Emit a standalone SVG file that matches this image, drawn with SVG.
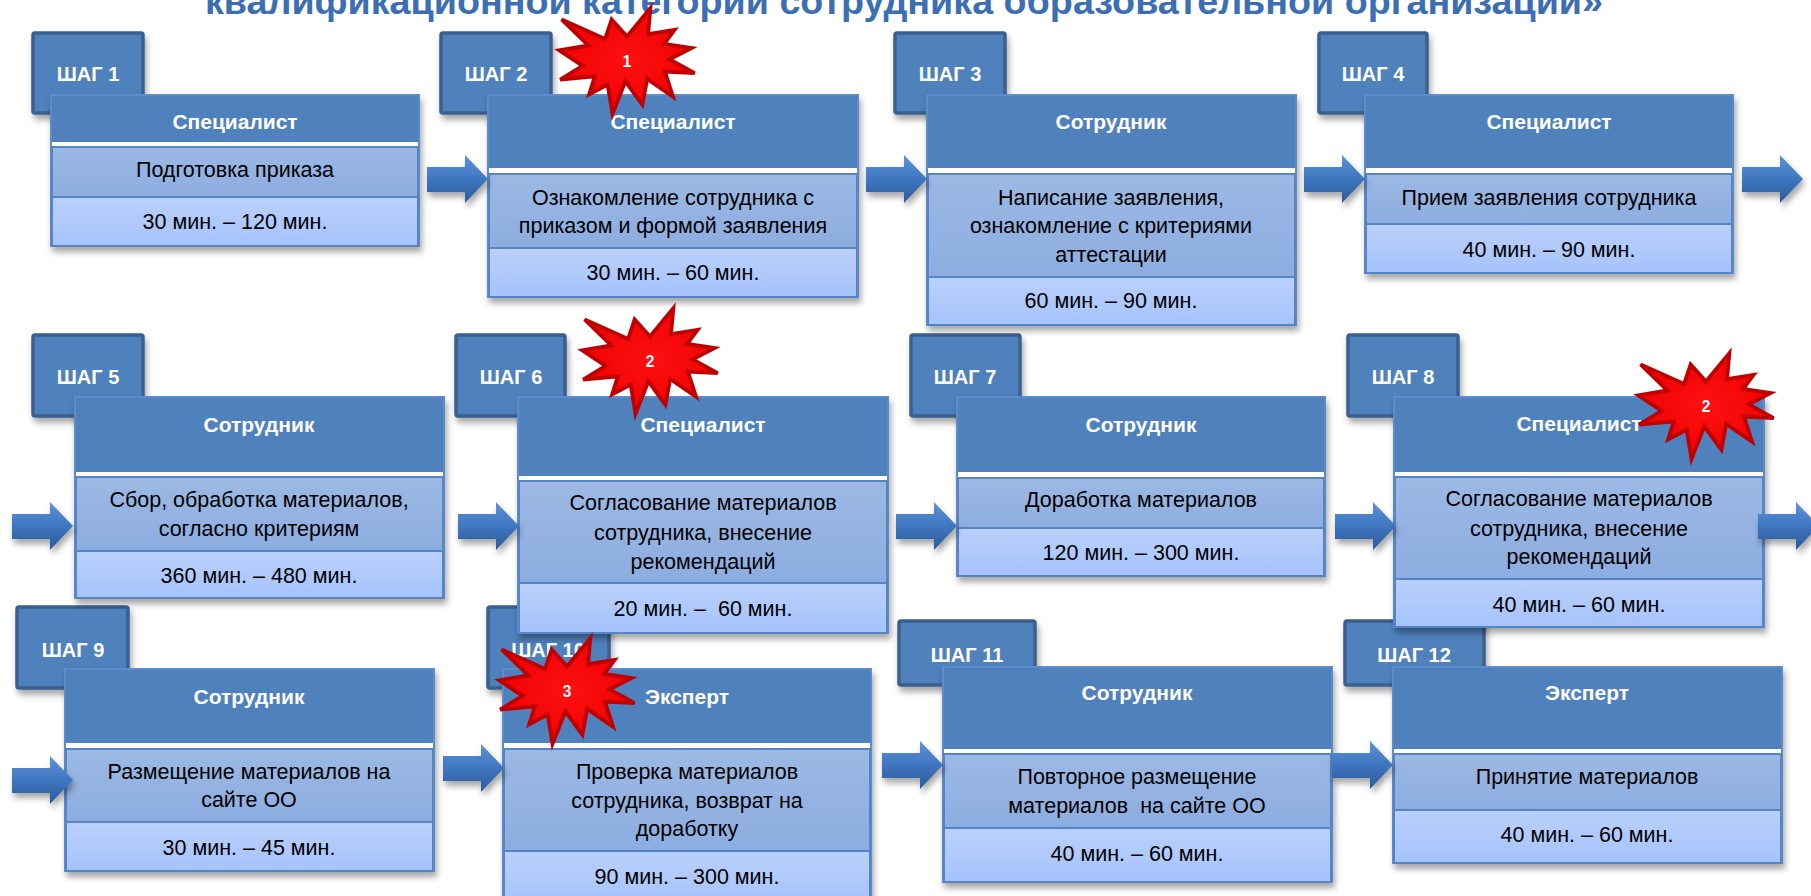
<svg xmlns="http://www.w3.org/2000/svg" xmlns:xlink="http://www.w3.org/1999/xlink" width="1811" height="896" viewBox="0 0 1811 896">
<style>
.tab{fill:#4f81bd;stroke:#3a5f8f;stroke-width:3.5}
.tabt{font-family:"Liberation Sans",Arial,sans-serif;font-weight:bold;font-size:20px;fill:#fff;text-anchor:middle}
.box{fill:#4f81bd;stroke:#5b8ccc;stroke-width:2}
.strp{fill:#fff}
.mid{fill:url(#gMid);stroke:#5585c5;stroke-width:2}
.bot{fill:url(#gBot);stroke:#5585c5;stroke-width:2}
.hd{font-family:"Liberation Sans",Arial,sans-serif;font-weight:bold;font-size:21px;fill:#fff;text-anchor:middle}
.tx{font-family:"Liberation Sans",Arial,sans-serif;font-size:21.5px;fill:#000;text-anchor:middle}
.pre{white-space:pre}
.arw{fill:url(#gArr)}
.star{fill:url(#gStar);stroke:#c00000;stroke-width:4;stroke-linejoin:miter}
.num{font-family:"Liberation Sans",Arial,sans-serif;font-weight:bold;font-size:16px;fill:#fff;text-anchor:middle}
.title{font-family:"Liberation Sans",Arial,sans-serif;font-weight:bold;font-size:36px;fill:#3c6eb4}
</style>
<defs>
<linearGradient id="gMid" x1="0" y1="0" x2="0" y2="1"><stop offset="0" stop-color="#9cb9e4"/><stop offset="1" stop-color="#8cade0"/></linearGradient>
<linearGradient id="gBot" x1="0" y1="0" x2="0" y2="1"><stop offset="0" stop-color="#bad0fb"/><stop offset="1" stop-color="#a5c3fb"/></linearGradient>
<linearGradient id="gArr" x1="0" y1="0" x2="0" y2="1"><stop offset="0" stop-color="#5d93d8"/><stop offset="0.5" stop-color="#3f76c0"/><stop offset="1" stop-color="#2c5a98"/></linearGradient>
<radialGradient id="gStar" cx="0.5" cy="0.5" r="0.6"><stop offset="0" stop-color="#ff1010"/><stop offset="1" stop-color="#ee0000"/></radialGradient>
<filter id="sh" x="-10%" y="-10%" width="125%" height="135%"><feDropShadow dx="2" dy="5" stdDeviation="3" flood-color="#000" flood-opacity="0.35"/></filter>
<path id="arr" d="M0,12 H38 V0 L61,24 L38,48 V37 H0 Z"/>
<path id="starp" d="M0,-25.5 L24.3,-55 L21.9,-27.9 L49.5,-32.3 L38.5,-17.7 L67.2,-13.6 L44.4,-1.7 L70.5,12.7 L39.4,10.9 L47.9,37.2 L21,18.6 L16,45.5 L-1.7,21.1 L-15.1,55 L-20.1,24.6 L-39.4,34.7 L-33.5,16 L-69.6,19.3 L-46.2,5 L-70.5,-11.1 L-40.3,-16.2 L-68.1,-43.3 L-22.8,-22.8 L-16,-43.3 Z"/>
</defs>
<rect width="1811" height="896" fill="#fff"/>
<text class="title" x="205" y="14" textLength="1398" lengthAdjust="spacingAndGlyphs">квалификационной категории сотрудника образовательной организации»</text>

<g id="step9">
<rect class="tab" x="17" y="607" width="111" height="81" rx="2" filter="url(#sh)"/>
<text class="tabt" x="73" y="657">ШАГ 9</text>
<rect class="box" x="65" y="669" width="369" height="202" filter="url(#sh)"/>
<rect class="strp" x="66" y="743" width="367" height="6"/>
<rect class="mid" x="66" y="749" width="367" height="73"/>
<rect class="bot" x="66" y="822" width="367" height="49"/>
<text class="hd" x="249" y="704">Сотрудник</text>
<text class="tx" x="249" y="779">Размещение материалов на</text>
<text class="tx" x="249" y="807">сайте ОО</text>
<text class="tx" x="249" y="855">30 мин. – 45 мин.</text>
</g>
<g id="step10">
<rect class="tab" x="488" y="607" width="121" height="81" rx="2" filter="url(#sh)"/>
<text class="tabt" x="548" y="657">ШАГ 10</text>
<rect class="box" x="503" y="669" width="368" height="236" filter="url(#sh)"/>
<rect class="strp" x="504" y="743" width="366" height="6"/>
<rect class="mid" x="504" y="749" width="366" height="102"/>
<rect class="bot" x="504" y="851" width="366" height="54"/>
<text class="hd" x="687" y="704">Эксперт</text>
<text class="tx" x="687" y="779">Проверка материалов</text>
<text class="tx" x="687" y="808">сотрудника, возврат на</text>
<text class="tx" x="687" y="836">доработку</text>
<text class="tx" x="687" y="884">90 мин. – 300 мин.</text>
</g>
<g id="step11">
<rect class="tab" x="899" y="621" width="136" height="64" rx="2" filter="url(#sh)"/>
<text class="tabt" x="967" y="662">ШАГ 11</text>
<rect class="box" x="943" y="667" width="389" height="215" filter="url(#sh)"/>
<rect class="strp" x="944" y="749" width="387" height="5"/>
<rect class="mid" x="944" y="754" width="387" height="74"/>
<rect class="bot" x="944" y="828" width="387" height="54"/>
<text class="hd" x="1137" y="700">Сотрудник</text>
<text class="tx" x="1137" y="784">Повторное размещение</text>
<text class="tx pre" x="1137" y="813" xml:space="preserve">материалов  на сайте ОО</text>
<text class="tx" x="1137" y="861">40 мин. – 60 мин.</text>
</g>
<g id="step12">
<rect class="tab" x="1345" y="621" width="139" height="64" rx="2" filter="url(#sh)"/>
<text class="tabt" x="1414" y="662">ШАГ 12</text>
<rect class="box" x="1393" y="667" width="389" height="196" filter="url(#sh)"/>
<rect class="strp" x="1394" y="749" width="387" height="5"/>
<rect class="mid" x="1394" y="754" width="387" height="56"/>
<rect class="bot" x="1394" y="810" width="387" height="53"/>
<text class="hd" x="1587" y="700">Эксперт</text>
<text class="tx" x="1587" y="784">Принятие материалов</text>
<text class="tx" x="1587" y="842">40 мин. – 60 мин.</text>
</g>

<g id="step5">
<rect class="tab" x="33" y="335" width="110" height="81" rx="2" filter="url(#sh)"/>
<text class="tabt" x="88" y="384">ШАГ 5</text>
<rect class="box" x="75" y="397" width="369" height="201" filter="url(#sh)"/>
<rect class="strp" x="76" y="472" width="367" height="5"/>
<rect class="mid" x="76" y="477" width="367" height="74"/>
<rect class="bot" x="76" y="551" width="367" height="47"/>
<text class="hd" x="259" y="432">Сотрудник</text>
<text class="tx" x="259" y="507">Сбор, обработка материалов,</text>
<text class="tx" x="259" y="536">согласно критериям</text>
<text class="tx" x="259" y="583">360 мин. – 480 мин.</text>
</g>
<g id="step6">
<rect class="tab" x="456" y="335" width="109" height="81" rx="2" filter="url(#sh)"/>
<text class="tabt" x="511" y="384">ШАГ 6</text>
<rect class="box" x="518" y="397" width="370" height="236" filter="url(#sh)"/>
<rect class="strp" x="519" y="476" width="368" height="5"/>
<rect class="mid" x="519" y="481" width="368" height="102"/>
<rect class="bot" x="519" y="583" width="368" height="50"/>
<text class="hd" x="703" y="432">Специалист</text>
<text class="tx" x="703" y="510">Согласование материалов</text>
<text class="tx" x="703" y="540">сотрудника, внесение</text>
<text class="tx" x="703" y="569">рекомендаций</text>
<text class="tx pre" x="703" y="616" xml:space="preserve">20 мин. –  60 мин.</text>
</g>
<g id="step7">
<rect class="tab" x="911" y="335" width="109" height="81" rx="2" filter="url(#sh)"/>
<text class="tabt" x="965" y="384">ШАГ 7</text>
<rect class="box" x="957" y="397" width="368" height="179" filter="url(#sh)"/>
<rect class="strp" x="958" y="472" width="366" height="6"/>
<rect class="mid" x="958" y="478" width="366" height="50"/>
<rect class="bot" x="958" y="528" width="366" height="48"/>
<text class="hd" x="1141" y="432">Сотрудник</text>
<text class="tx" x="1141" y="507">Доработка материалов</text>
<text class="tx" x="1141" y="560">120 мин. – 300 мин.</text>
</g>
<g id="step8">
<rect class="tab" x="1348" y="335" width="110" height="81" rx="2" filter="url(#sh)"/>
<text class="tabt" x="1403" y="384">ШАГ 8</text>
<rect class="box" x="1394" y="397" width="370" height="230" filter="url(#sh)"/>
<rect class="strp" x="1395" y="472" width="368" height="5"/>
<rect class="mid" x="1395" y="477" width="368" height="102"/>
<rect class="bot" x="1395" y="579" width="368" height="48"/>
<text class="hd" x="1579" y="431">Специалист</text>
<text class="tx" x="1579" y="506">Согласование материалов</text>
<text class="tx" x="1579" y="536">сотрудника, внесение</text>
<text class="tx" x="1579" y="564">рекомендаций</text>
<text class="tx" x="1579" y="612">40 мин. – 60 мин.</text>
</g>

<g id="step1">
<rect class="tab" x="33" y="33" width="110" height="80" rx="2" filter="url(#sh)"/>
<text class="tabt" x="88" y="81">ШАГ 1</text>
<rect class="box" x="51" y="95" width="368" height="151" filter="url(#sh)"/>
<rect class="strp" x="52" y="142" width="366" height="5"/>
<rect class="mid" x="52" y="147" width="366" height="50"/>
<rect class="bot" x="52" y="197" width="366" height="49"/>
<text class="hd" x="235" y="129">Специалист</text>
<text class="tx" x="235" y="177">Подготовка приказа</text>
<text class="tx" x="235" y="229">30 мин. – 120 мин.</text>
</g>
<g id="step2">
<rect class="tab" x="441" y="33" width="110" height="80" rx="2" filter="url(#sh)"/>
<text class="tabt" x="496" y="81">ШАГ 2</text>
<rect class="box" x="488" y="95" width="370" height="202" filter="url(#sh)"/>
<rect class="strp" x="489" y="168" width="368" height="6"/>
<rect class="mid" x="489" y="174" width="368" height="74"/>
<rect class="bot" x="489" y="248" width="368" height="49"/>
<text class="hd" x="673" y="129">Специалист</text>
<text class="tx" x="673" y="205">Ознакомление сотрудника с</text>
<text class="tx" x="673" y="233">приказом и формой заявления</text>
<text class="tx" x="673" y="280">30 мин. – 60 мин.</text>
</g>
<g id="step3">
<rect class="tab" x="895" y="33" width="110" height="80" rx="2" filter="url(#sh)"/>
<text class="tabt" x="950" y="81">ШАГ 3</text>
<rect class="box" x="927" y="95" width="369" height="230" filter="url(#sh)"/>
<rect class="strp" x="928" y="168" width="367" height="6"/>
<rect class="mid" x="928" y="174" width="367" height="103"/>
<rect class="bot" x="928" y="277" width="367" height="48"/>
<text class="hd" x="1111" y="129">Сотрудник</text>
<text class="tx" x="1111" y="205">Написание заявления,</text>
<text class="tx" x="1111" y="233">ознакомление с критериями</text>
<text class="tx" x="1111" y="262">аттестации</text>
<text class="tx" x="1111" y="308">60 мин. – 90 мин.</text>
</g>
<g id="step4">
<rect class="tab" x="1319" y="33" width="108" height="80" rx="2" filter="url(#sh)"/>
<text class="tabt" x="1373" y="81">ШАГ 4</text>
<rect class="box" x="1365" y="95" width="368" height="178" filter="url(#sh)"/>
<rect class="strp" x="1366" y="168" width="366" height="6"/>
<rect class="mid" x="1366" y="174" width="366" height="50"/>
<rect class="bot" x="1366" y="224" width="366" height="49"/>
<text class="hd" x="1549" y="129">Специалист</text>
<text class="tx" x="1549" y="205">Прием заявления сотрудника</text>
<text class="tx" x="1549" y="257">40 мин. – 90 мин.</text>
</g>

<g id="connectors" filter="url(#sh)">
<use class="arw" href="#arr" x="427" y="155"/>
<use class="arw" href="#arr" x="866" y="155"/>
<use class="arw" href="#arr" x="1304" y="155"/>
<use class="arw" href="#arr" x="1742" y="155"/>
<use class="arw" href="#arr" x="12" y="502"/>
<use class="arw" href="#arr" x="458" y="502"/>
<use class="arw" href="#arr" x="896" y="502"/>
<use class="arw" href="#arr" x="1335" y="502"/>
<use class="arw" href="#arr" x="1758" y="502"/>
<use class="arw" href="#arr" x="12" y="756"/>
<use class="arw" href="#arr" x="443" y="744"/>
<use class="arw" href="#arr" x="882" y="741"/>
<use class="arw" href="#arr" x="1332" y="741"/>
</g>

<g id="badge1"><use class="star" href="#starp" transform="translate(627,61) scale(0.96)"/><text class="num" x="627" y="67">1</text></g>
<g id="badge2a"><use class="star" href="#starp" transform="translate(650,361) scale(0.96)"/><text class="num" x="650" y="367">2</text></g>
<g id="badge2b"><use class="star" href="#starp" transform="translate(1706,406) scale(0.96)"/><text class="num" x="1706" y="412">2</text></g>
<g id="badge3"><use class="star" href="#starp" transform="translate(567,691) scale(0.96)"/><text class="num" x="567" y="697">3</text></g>
</svg>
